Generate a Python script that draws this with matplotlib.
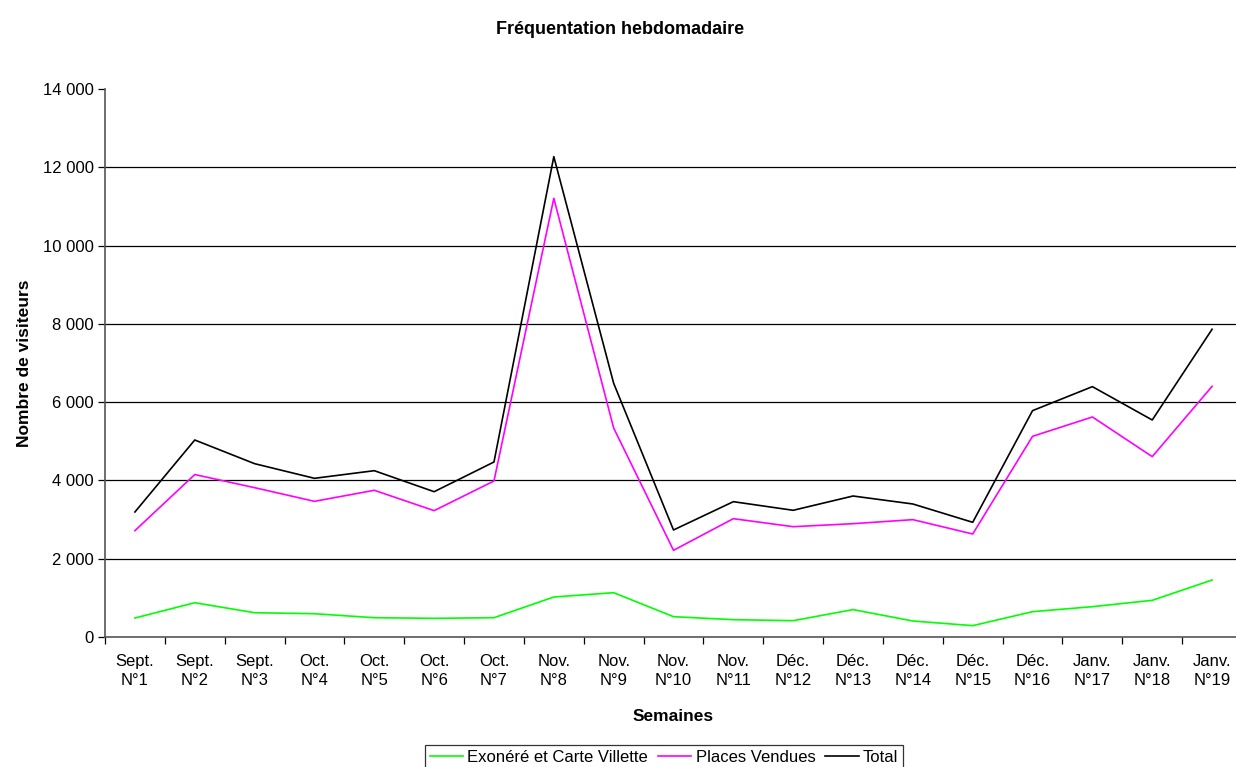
import numpy as np
from matplotlib import pyplot as plt
from matplotlib.ticker import FuncFormatter

plt.rcParams['font.family'] = ['Liberation Sans', 'DejaVu Sans']

semaines = ["Sept.\nN°1", "Sept.\nN°2", "Sept.\nN°3", "Oct.\nN°4", "Oct.\nN°5",
            "Oct.\nN°6", "Oct.\nN°7", "Nov.\nN°8", "Nov.\nN°9", "Nov.\nN°10",
            "Nov.\nN°11", "Déc.\nN°12", "Déc.\nN°13", "Déc.\nN°14", "Déc.\nN°15",
            "Déc.\nN°16", "Janv.\nN°17", "Janv.\nN°18", "Janv.\nN°19"]

exonere = [485, 876, 620, 595, 493, 477, 493, 1022, 1132, 519,
           443, 417, 700, 409, 290, 647, 775, 937, 1456]
places = [2717, 4150, 3815, 3466, 3748, 3228, 3986, 11208, 5340, 2215,
          3023, 2818, 2895, 2998, 2631, 5127, 5621, 4608, 6404]
total = [3194, 5033, 4428, 4054, 4249, 3712, 4471, 12272, 6482, 2734,
         3457, 3237, 3602, 3398, 2930, 5783, 6396, 5544, 7862]

x = np.arange(len(semaines))

fig = plt.figure(figsize=(12.36, 7.67), dpi=100)
ax = fig.add_axes([105/1236, 1-637/767, 1137/1236, 548/767])

for v in range(2000, 14000, 2000):
    ax.axhline(v, color='black', linewidth=0.9, zorder=1)

ax.plot(x, exonere, color='#00ff00', linewidth=1.2, label="Exonéré et Carte Villette", zorder=3)
ax.plot(x, places, color='#ff00ff', linewidth=1.2, label="Places Vendues", zorder=3)
ax.plot(x, total, color='black', linewidth=1.2, label="Total", zorder=3)

ax.set_xlim(-0.5, len(semaines) - 0.5)
ax.set_ylim(0, 14000)
ax.set_yticks(range(0, 14001, 2000))
ax.yaxis.set_major_formatter(FuncFormatter(lambda v, p: f"{int(v):,}".replace(",", " ")))

ax.set_xticks(x)
ax.set_xticklabels(semaines, linespacing=1.4)
ax.set_xticks(np.arange(-0.5, len(semaines), 1), minor=True)
ax.tick_params(axis='x', which='major', length=0, pad=12, labelsize=12)
ax.tick_params(axis='x', which='minor', length=5, width=0.9, direction='out')
ax.tick_params(axis='y', length=5, width=0.9, direction='out', labelsize=12, pad=3)

for s in ['top', 'right']:
    ax.spines[s].set_visible(False)
ax.spines['left'].set_color('#555555')
ax.spines['bottom'].set_color('#555555')
ax.spines['left'].set_linewidth(1.2)
ax.spines['bottom'].set_linewidth(1.2)

fig.text(620/1236, 1-29/767, "Fréquentation hebdomadaire", ha='center', va='center',
         fontsize=13, fontweight='bold')
ax.set_xlabel("Semaines", fontsize=12.5, fontweight='bold', labelpad=15)
ax.set_ylabel("Nombre de visiteurs", fontsize=12.5, fontweight='bold', labelpad=8)

leg = fig.legend(loc='center', bbox_to_anchor=(664/1236, 1-757/767), ncol=3,
                 frameon=True, fancybox=False, edgecolor='black', fontsize=12,
                 handlelength=2.0, handletextpad=0.25, columnspacing=0.6,
                 borderpad=0.3)
leg.get_frame().set_linewidth(0.9)

plt.savefig("out.png", dpi=100)
